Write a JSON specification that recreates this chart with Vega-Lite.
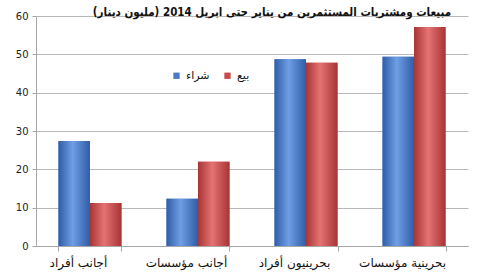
{
  "$schema": "https://vega.github.io/schema/vega-lite/v6.json",
  "autosize": {"type": "none"},
  "width": 432,
  "height": 230,
  "padding": {"left": 36, "top": 16, "right": 32, "bottom": 33},
  "background": "white",
  "title": {
    "text": "مبيعات ومشتريات المستثمرين من يناير حتى ابريل 2014  (مليون دينار)",
    "font": "DejaVu Sans Condensed",
    "fontSize": 11.5,
    "fontWeight": "bold",
    "color": "#111111",
    "anchor": "middle",
    "dx": 20,
    "offset": -7
  },
  "data": {
    "values": [
      {"cat": "أجانب أفراد", "series": "شراء", "value": 27.4},
      {"cat": "أجانب أفراد", "series": "بيع", "value": 11.2},
      {"cat": "أجانب مؤسسات", "series": "شراء", "value": 12.3},
      {"cat": "أجانب مؤسسات", "series": "بيع", "value": 22.0},
      {"cat": "بحرينيون أفراد", "series": "شراء", "value": 48.7},
      {"cat": "بحرينيون أفراد", "series": "بيع", "value": 47.8},
      {"cat": "بحرينية مؤسسات", "series": "شراء", "value": 49.4},
      {"cat": "بحرينية مؤسسات", "series": "بيع", "value": 57.1}
    ]
  },
  "encoding": {
    "x": {
      "field": "cat",
      "type": "nominal",
      "sort": null,
      "scale": {"paddingInner": 0.417, "paddingOuter": 0.208},
      "axis": {
        "title": null,
        "labelAngle": 0,
        "labelFont": "DejaVu Sans",
        "labelFontSize": 12,
        "labelColor": "#111111",
        "labelPadding": 6,
        "labelOffset": -12,
        "domainColor": "#a6a6a6",
        "tickColor": "#a6a6a6",
        "tickBand": "extent",
        "tickSize": 5
      }
    },
    "xOffset": {"field": "series", "type": "nominal", "sort": ["شراء", "بيع"]},
    "y": {
      "field": "value",
      "type": "quantitative",
      "scale": {"domain": [0, 60], "nice": false},
      "axis": {
        "title": null,
        "values": [0, 10, 20, 30, 40, 50, 60],
        "labelFont": "DejaVu Sans",
        "labelFontSize": 10,
        "labelColor": "#222222",
        "labelPadding": 4,
        "domainColor": "#a6a6a6",
        "tickColor": "#a6a6a6",
        "tickSize": 4,
        "gridColor": "#b8b8b8",
        "gridWidth": 1
      }
    }
  },
  "layer": [
    {
      "mark": {"type": "bar"},
      "encoding": {
        "color": {
          "field": "series",
          "type": "nominal",
          "scale": {"domain": ["شراء", "بيع"], "range": ["#4a7bc8", "#c84a4a"]},
          "legend": {
            "title": null,
            "orient": "none",
            "direction": "horizontal",
            "legendX": 135,
            "legendY": 54,
            "symbolType": "square",
            "symbolSize": 40,
            "symbolStrokeWidth": 0,
            "labelFont": "DejaVu Sans",
            "labelFontSize": 11,
            "labelColor": "#111111",
            "columnPadding": 12
          }
        }
      }
    },
    {
      "transform": [{"filter": "datum.series === 'شراء'"}],
      "mark": {
        "type": "bar",
        "color": {
          "gradient": "linear",
          "x1": 0, "y1": 0, "x2": 1, "y2": 0,
          "stops": [
            {"offset": 0, "color": "#2f5ea8"},
            {"offset": 0.45, "color": "#6f9ee4"},
            {"offset": 1, "color": "#2f5ea8"}
          ]
        }
      }
    },
    {
      "transform": [{"filter": "datum.series === 'بيع'"}],
      "mark": {
        "type": "bar",
        "color": {
          "gradient": "linear",
          "x1": 0, "y1": 0, "x2": 1, "y2": 0,
          "stops": [
            {"offset": 0, "color": "#a83434"},
            {"offset": 0.45, "color": "#e57373"},
            {"offset": 1, "color": "#a83434"}
          ]
        }
      }
    }
  ],
  "config": {
    "view": {"stroke": null}
  }
}
